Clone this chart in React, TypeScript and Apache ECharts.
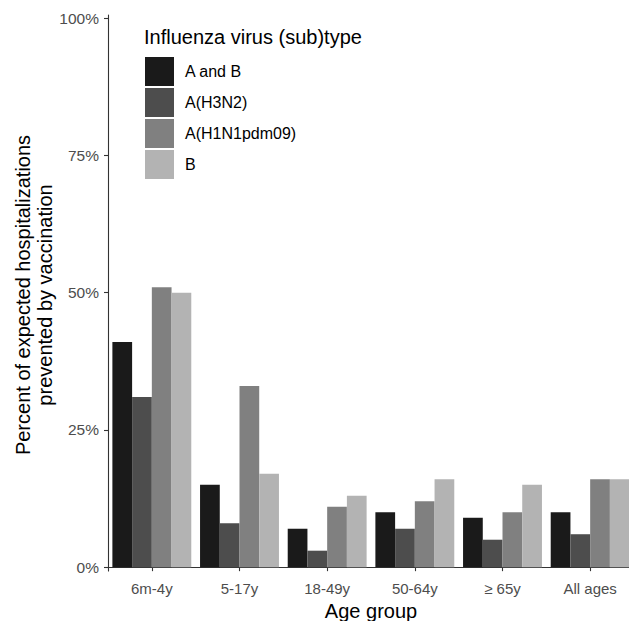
import React, { useEffect, useRef } from "react";
import * as echarts from "echarts";

const categories = ["6m-4y", "5-17y", "18-49y", "50-64y", "\u2265 65y", "All ages"];
const seriesNames = ["A and B", "A(H3N2)", "A(H1N1pdm09)", "B"];
const aAndB = [41, 15, 7, 10, 9, 10];
const h3n2 = [31, 8, 3, 7, 5, 6];
const h1n1 = [51, 33, 11, 12, 10, 16];
const bOnly = [50, 17, 13, 16, 15, 16];
const colors = ["#1A1A1A", "#4D4D4D", "#808080", "#B3B3B3"];
const yTicks = [0, 25, 50, 75, 100];

const FONT = "'Liberation Sans', Arial, Helvetica, sans-serif";

export default function App() {
  const ref = useRef<HTMLDivElement>(null);
  useEffect(() => {
    if (!ref.current) return;
    const chart = echarts.init(ref.current, null, { renderer: "svg" });
    const values = [aAndB, h3n2, h1n1, bOnly];
    chart.setOption({
      animation: false,
      backgroundColor: "#ffffff",
      textStyle: { fontFamily: FONT },
      title: {
        text: "Influenza virus (sub)type",
        left: 144,
        top: 27,
        textStyle: { fontFamily: FONT, fontSize: 20, fontWeight: "normal", color: "#000" },
        padding: 0,
      },
      legend: {
        orient: "vertical",
        left: 145,
        top: 57,
        padding: 0,
        itemWidth: 29,
        itemHeight: 29,
        itemGap: 2,
        icon: "rect",
        data: seriesNames,
        textStyle: { fontFamily: FONT, fontSize: 16, color: "#000", padding: [0, 0, 0, 6] },
      },
      grid: {
        left: 108,
        top: 15,
        width: 526,
        bottom: 50,
        containLabel: false,
        outerBoundsMode: "none",
      },
      xAxis: {
        type: "category",
        data: categories,
        boundaryGap: true,
        name: "Age group",
        nameLocation: "middle",
        nameGap: 30,
        nameTextStyle: { fontFamily: FONT, fontSize: 20, color: "#000" },
        axisLine: { show: true, lineStyle: { color: "#333333", width: 1.1 } },
        axisTick: { show: true, alignWithLabel: true, length: 4, lineStyle: { color: "#333333", width: 1.1 } },
        axisLabel: { fontFamily: FONT, fontSize: 15, color: "#4D4D4D", margin: 10 },
        splitLine: { show: false },
      },
      yAxis: {
        type: "value",
        min: -0.7,
        max: 100.6,
        axisLine: { show: true, lineStyle: { color: "#333333", width: 1.1 } },
        axisTick: { show: true, length: 4, customValues: yTicks, lineStyle: { color: "#333333", width: 1.1 } },
        axisLabel: {
          fontFamily: FONT,
          fontSize: 15.5,
          color: "#4D4D4D",
          margin: 9,
          customValues: yTicks,
          formatter: (v: number) => `${Math.round(v)}%`,
        },
        splitLine: { show: false },
      },
      graphic: [
        {
          type: "text",
          x: 34,
          y: 295,
          rotation: Math.PI / 2,
          style: {
            text: "Percent of expected hospitalizations\nprevented by vaccination",
            fontFamily: FONT,
            fontSize: 20,
            lineHeight: 22,
            fill: "#000",
            align: "center",
            verticalAlign: "middle",
          },
        },
      ],
      series: seriesNames.map((name, i) => ({
        name,
        type: "bar",
        data: values[i],
        barGap: "0%",
        barCategoryGap: "10%",
        itemStyle: { color: colors[i] },
      })),
    });
    return () => chart.dispose();
  }, []);
  return (
    <div
      ref={ref}
      style={{ position: "fixed", left: 0, top: 0, width: 629, height: 621 }}
    />
  );
}
